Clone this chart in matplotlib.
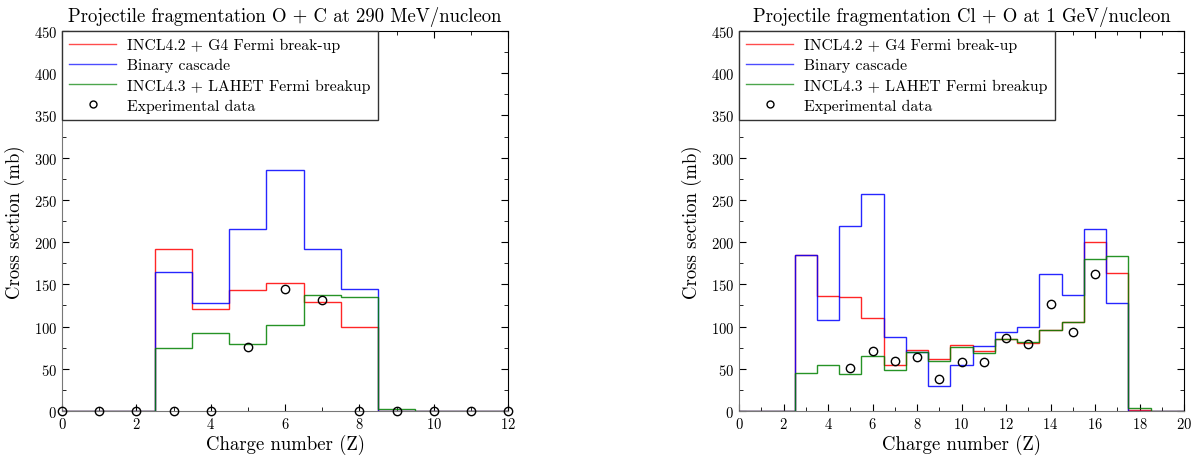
import numpy as np
import matplotlib
matplotlib.use("Agg")
import matplotlib.pyplot as plt
from matplotlib.ticker import MultipleLocator
from matplotlib.lines import Line2D

plt.rcParams['font.family'] = ['cmr10', 'DejaVu Serif']
plt.rcParams['axes.formatter.use_mathtext'] = True
plt.rcParams['mathtext.fontset'] = 'cm'

# ---- Left panel: O + C at 290 MeV/nucleon ----
z_left = np.arange(0, 13)
left_incl42 = [0, 0, 0, 192, 121, 143, 151, 129, 99, 0, 0, 0, 0]
left_binary = [0, 0, 0, 165, 128, 216, 285, 192, 145, 0, 0, 0, 0]
left_incl43 = [0, 0, 0, 75, 92, 79, 102, 137, 135, 2, 0, 0, 0]
left_exp_z = [0, 1, 2, 3, 4, 5, 6, 7, 8, 9, 10, 11, 12]
left_exp_v = [0, 0, 0, 0, 0, 76, 144, 131, 0, 0, 0, 0, 0]

# ---- Right panel: Cl + O at 1 GeV/nucleon ----
z_right = np.arange(0, 21)
right_incl42 = [0, 0, 0, 185, 136, 135, 110, 55, 72, 62, 78, 71, 85, 80, 96, 105, 200, 163, 1, 0, 0]
right_binary = [0, 0, 0, 185, 108, 219, 257, 88, 70, 30, 55, 77, 93, 99, 162, 137, 215, 128, 0, 0, 0]
right_incl43 = [0, 0, 0, 45, 54, 44, 65, 49, 70, 59, 76, 69, 85, 82, 96, 105, 180, 184, 3, 0, 0]
right_exp_z = [5, 6, 7, 8, 9, 10, 11, 12, 13, 14, 15, 16]
right_exp_v = [51, 71, 59, 64, 38, 58, 58, 86, 79, 127, 94, 162]

labels = ["INCL4.2 + G4 Fermi break-up", "Binary cascade",
          "INCL4.3 + LAHET Fermi breakup", "Experimental data"]
colors = ["#ff0000", "#0000ff", "#008000"]

fig = plt.figure(figsize=(12, 4.64), dpi=100)
ax1 = fig.add_axes([62/1200, 52/464, 446/1200, 380/464])
ax2 = fig.add_axes([739/1200, 52/464, 445/1200, 380/464])


def draw(ax, z, series, exp_z, exp_v, xmax, title):
    edges = np.append(z - 0.5, z[-1] + 0.5)
    for vals, c, lab in zip(series, colors, labels[:3]):
        ax.stairs(vals, edges, color=c, lw=1.0, alpha=0.85, label=lab,
                  baseline=None, zorder=3)
    ax.plot(exp_z, exp_v, 'o', mfc='none', mec='black', mew=1.0, ms=6,
            label=labels[3], clip_on=False, zorder=5)
    ax.set_xlim(0, xmax)
    ax.set_ylim(0, 450)
    ax.xaxis.set_major_locator(MultipleLocator(2))
    ax.xaxis.set_minor_locator(MultipleLocator(1))
    ax.yaxis.set_major_locator(MultipleLocator(50))
    ax.yaxis.set_minor_locator(MultipleLocator(25))
    ax.tick_params(which='both', direction='in', top=True, right=True, labelsize=10.5)
    ax.tick_params(which='major', length=5)
    ax.tick_params(which='minor', length=3)
    for s in ['left', 'bottom']:
        ax.spines[s].set_color('#777777')
    ax.set_xlabel("Charge number (Z)", fontsize=13.5, labelpad=2)
    ax.set_ylabel("Cross section (mb)", fontsize=13.5, labelpad=6)
    ax.set_title(title, fontsize=13.5, pad=7)
    lh = [Line2D([], [], color=c, lw=1.0, alpha=0.7) for c in colors]
    lh.append(Line2D([], [], ls='none', marker='o', mfc='none', mec='black', ms=5, mew=1.0))
    leg = ax.legend(lh, labels, loc='upper left', fontsize=11.3, frameon=True,
                    fancybox=False, edgecolor='#333333', borderaxespad=0,
                    handlelength=3, handletextpad=0.7, labelspacing=0.38,
                    borderpad=0.45)
    leg.get_frame().set_linewidth(1.0)
    leg.get_frame().set_alpha(1)


draw(ax1, z_left, [left_incl42, left_binary, left_incl43], left_exp_z, left_exp_v, 12,
     "Projectile fragmentation O + C at 290 MeV/nucleon")
draw(ax2, z_right, [right_incl42, right_binary, right_incl43], right_exp_z, right_exp_v, 20,
     "Projectile fragmentation Cl + O at 1 GeV/nucleon")

fig.savefig("out.png", dpi=100)
